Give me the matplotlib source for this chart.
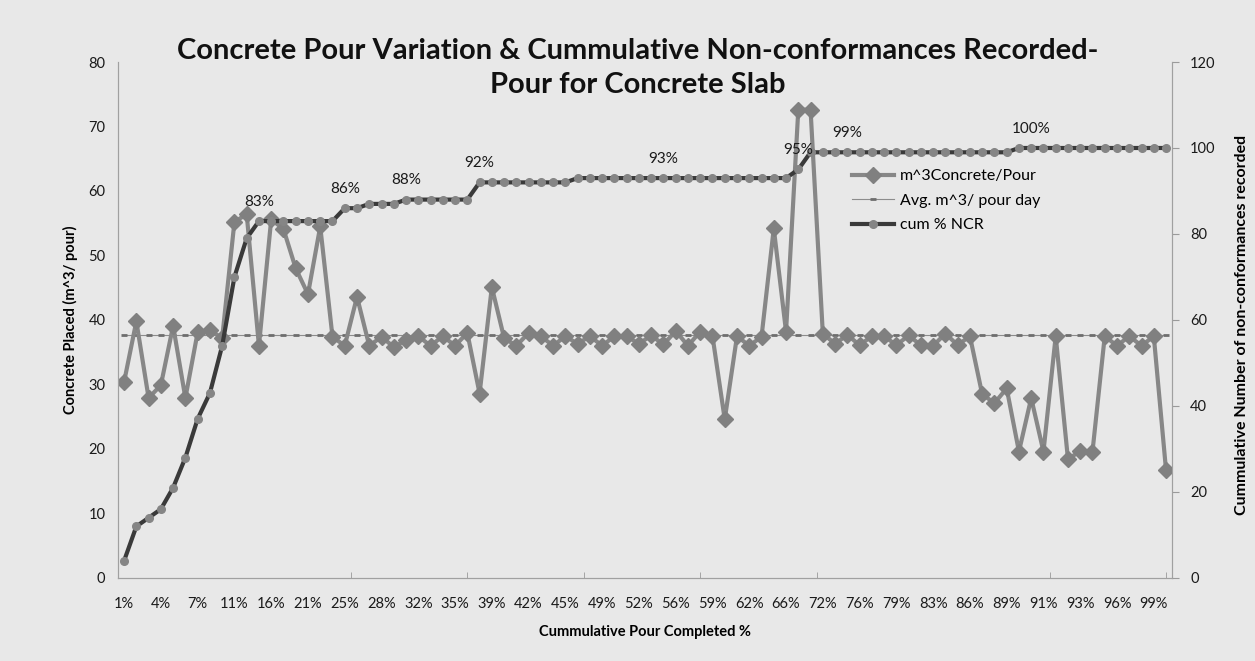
import matplotlib.pyplot as plt
import numpy as np

plt.rcParams['font.family'] = ['Lato', 'DejaVu Sans']

# concrete placed per pour (m^3), one value per pour
pour_m3 = [30.4, 39.8, 27.9, 29.9, 39.1, 27.9, 38.1, 38.4, 37.2, 55.2,
           56.4, 36.0, 55.6, 54.1, 48.0, 44.0, 54.5, 37.4, 36.0, 43.6,
           36.0, 37.4, 35.8, 36.9, 37.5, 36.0, 37.5, 36.0, 38.0, 28.6,
           45.1, 37.2, 36.0, 38.0, 37.5, 36.0, 37.5, 36.3, 37.5, 36.0,
           37.5, 37.5, 36.3, 37.6, 36.2, 38.3, 36.0, 38.2, 37.5, 24.6,
           37.5, 36.0, 37.4, 54.2, 38.2, 72.6, 72.6, 37.9, 36.3, 37.7,
           36.1, 37.5, 37.5, 36.1, 37.6, 36.1, 36.0, 37.9, 36.1, 37.5,
           28.5, 27.1, 29.4, 19.6, 27.9, 19.6, 37.5, 18.4, 19.7, 19.6,
           37.5, 36.0, 37.5, 36.0, 37.5, 16.7]

# cumulative non-conformances recorded (right axis)
cum_ncr = [4, 12, 14, 16, 21, 28, 37, 43, 54, 70,
           79, 83, 83, 83, 83, 83, 83, 83, 86, 86,
           87, 87, 87, 88, 88, 88, 88, 88, 88, 92,
           92, 92, 92, 92, 92, 92, 92, 93, 93, 93,
           93, 93, 93, 93, 93, 93, 93, 93, 93, 93,
           93, 93, 93, 93, 93, 95, 99, 99, 99, 99,
           99, 99, 99, 99, 99, 99, 99, 99, 99, 99,
           99, 99, 99, 100, 100, 100, 100, 100, 100, 100,
           100, 100, 100, 100, 100, 100]

avg_pour = 37.7

tick_labels = ['1%', '4%', '7%', '11%', '16%', '21%', '25%', '28%', '32%', '35%',
               '39%', '42%', '45%', '49%', '52%', '56%', '59%', '62%', '66%', '72%',
               '76%', '79%', '83%', '86%', '89%', '91%', '93%', '96%', '99%']

# points of the NCR line that carry a data label
label_points = [11, 18, 23, 29, 44, 55, 59, 74]

x = np.arange(len(pour_m3))
bg = '#e8e8e8'

fig = plt.figure(figsize=(12.55, 6.61), dpi=100, facecolor=bg)
ax = fig.add_axes([0.094, 0.1256, 0.84, 0.7806])
ax.set_facecolor(bg)
ax2 = ax.twinx()

l1, = ax.plot(x, pour_m3, color='#878787', lw=3, marker='D', ms=8.5,
              mfc='#808080', mec='#808080', zorder=3)
l2, = ax.plot(x, [avg_pour] * len(x), color='#8c8c8c', lw=0.8, marker='_',
              ms=4, mew=2, mec='#6e6e6e', zorder=2)
l3, = ax2.plot(x, cum_ncr, color='#3a3a3a', lw=3, marker='o', ms=5.5,
               mfc='#858585', mec='#858585', zorder=3)

for i in label_points:
    ax2.annotate(f'{cum_ncr[i]}%', (x[i], cum_ncr[i]), xytext=(0, 14),
                 textcoords='offset points', ha='center', va='center',
                 fontsize=11, color='#1a1a1a')

ax.set_xlim(-0.5, len(x) - 0.5)
ax.set_ylim(0, 80)
ax2.set_ylim(0, 120)
ax.set_yticks(range(0, 81, 10))
ax2.set_yticks(range(0, 121, 20))
ax.set_xticks(x[::3])
ax.set_xticklabels(tick_labels)
ax.set_xticks(np.arange(-0.5, len(x), 9.5), minor=True)

ax.tick_params(axis='x', which='major', length=0, pad=14, labelsize=10.5, colors='#1a1a1a')
ax.tick_params(axis='x', which='minor', length=4, direction='in', color='#9a9a9a')
ax.tick_params(axis='y', length=0, pad=9, labelsize=10.5, colors='#1a1a1a')
ax2.tick_params(axis='y', length=5, pad=8, labelsize=10.5, colors='#1a1a1a')
ax2.tick_params(axis='y', color='#9a9a9a')

for a in (ax, ax2):
    a.spines['top'].set_visible(False)
    for s in ('left', 'right', 'bottom'):
        a.spines[s].set_color('#a0a0a0')

ax.set_xlabel('Cummulative Pour Completed %', fontsize=10.5, fontweight='bold')
ax.xaxis.set_label_coords(0.5, -0.091)
ax.set_ylabel('Concrete Placed (m^3/ pour)', fontsize=10.5, fontweight='bold')
ax.yaxis.set_label_coords(-0.038, 0.5)
ax2.set_ylabel('Cummulative Number of non-conformances recorded', fontsize=11.5,
               fontweight='bold')
ax2.yaxis.set_label_coords(1.06, 0.49)

fig.text(0.508, 0.897, 'Concrete Pour Variation & Cummulative Non-conformances Recorded-\n'
         'Pour for Concrete Slab', ha='center', va='center', fontsize=21,
         fontweight='bold', linespacing=1.38, color='#111111')

ax2.legend([l1, l2, l3], ['m^3Concrete/Pour', 'Avg. m^3/ pour day', 'cum % NCR'],
           loc='upper left', bbox_to_anchor=(852 / 1255, 1 - 169 / 661),
           bbox_transform=fig.transFigure, frameon=False, fontsize=11.5,
           borderaxespad=0, borderpad=0, handlelength=2.6, handletextpad=0.4,
           labelspacing=0.65)

fig.savefig('out.png', dpi=100, facecolor=bg)
